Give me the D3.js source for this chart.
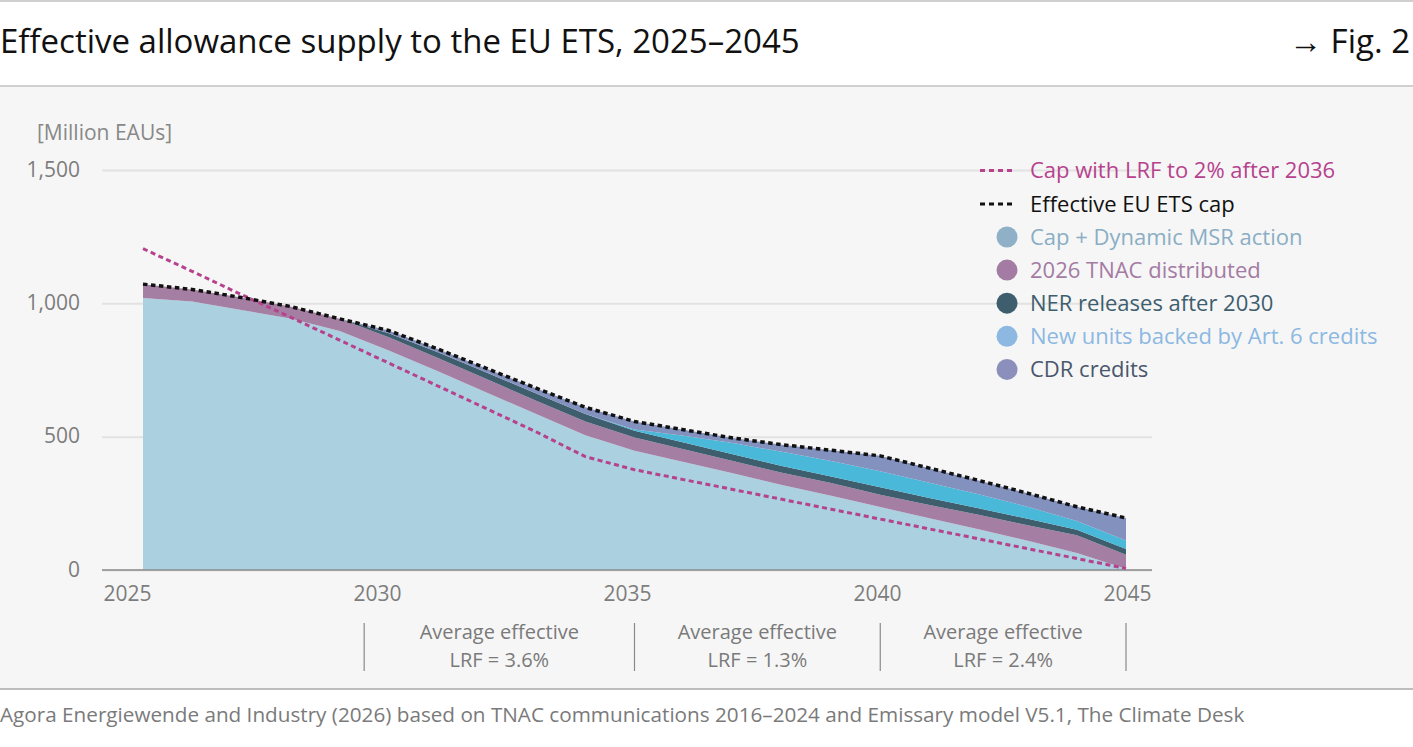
<!DOCTYPE html>
<html>
<head>
<meta charset="utf-8">
<script src="https://cdn.jsdelivr.net/npm/d3@7"></script>
<style>
  body { margin: 0; background: #fff; }
  svg text { font-family: "Open Sans", sans-serif; }
</style>
</head>
<body>
<svg id="chart" width="1413" height="747"></svg>
<script>
// values, million EAUs
const years = [2025, 2026, 2027, 2028, 2029, 2030, 2031, 2032, 2033, 2034, 2035,
  2036, 2037, 2038, 2039, 2040, 2041, 2042, 2043, 2044, 2045];
const capMsr = [1020, 1007, 975, 943, 896, 823, 745, 665, 585, 505, 447,
  405, 363, 319, 278, 236, 194, 153, 110, 64, 5];
const tnac = [52, 45, 47, 45, 46, 50, 50, 50, 50, 52, 50,
  48, 46, 46, 48, 46, 50, 54, 58, 66, 52];
const ner = [0, 0, 0, 0, 0, 15, 22, 25, 27, 28, 25,
  25, 25, 25, 25, 28, 26, 25, 24, 21, 22];
const art6 = [0, 0, 0, 0, 0, 0, 0, 0, 0, 0, 5,
  25, 42, 53, 58, 60, 57, 52, 45, 33, 32];
const cdr = [0, 0, 0, 0, 0, 10, 12, 15, 20, 25, 30,
  23, 19, 27, 40, 58, 55, 52, 51, 53, 84];
const capLrf2 = [1205, 1120, 1033, 948, 862, 776, 690, 604, 518, 425, 376,
  339, 302, 265, 228, 191, 154, 117, 80, 43, 6];

const yTicks = [0, 500, 1000, 1500];
const xTickLabels = ["2025", "2030", "2035", "2040", "2045"];

const lrfBounds = [2029.5, 2035, 2040, 2045];
const lrfValues = ["3.6%", "1.3%", "2.4%"];

const layerKeys = ["capMsr", "tnac", "ner", "art6", "cdr"];
const layerNames = ["Cap + Dynamic MSR action", "2026 TNAC distributed",
  "NER releases after 2030", "New units backed by Art. 6 credits", "CDR credits"];
const layerFill = ["#abd0df", "#a57ea3", "#3e5e6e", "#4ab8d9", "#8391bf"];
const legendDot = ["#8fb0c6", "#a47ba3", "#3e5e6e", "#8cb8e2", "#8b8fbb"];
const legendText = ["#8aaec4", "#a47ba3", "#3e5e6e", "#8cb8e2", "#4a566c"];

const svg = d3.select("#chart");
const W = 1413, H = 747;

// frame
svg.append("rect").attr("width", W).attr("height", H).attr("fill", "#fff");
svg.append("rect").attr("y", 86).attr("width", W).attr("height", 603).attr("fill", "#f6f6f6");
svg.append("line").attr("x1", 0).attr("x2", W).attr("y1", 1).attr("y2", 1)
  .attr("stroke", "#d0d0d0").attr("stroke-width", 2);
svg.append("line").attr("x1", 0).attr("x2", W).attr("y1", 86).attr("y2", 86)
  .attr("stroke", "#d0d0d0").attr("stroke-width", 2);
svg.append("line").attr("x1", 0).attr("x2", W).attr("y1", 689).attr("y2", 689)
  .attr("stroke", "#bdbdbd").attr("stroke-width", 2);

svg.append("text").attr("x", 0).attr("y", 53)
  .attr("font-size", 33).attr("fill", "#111")
  .text("Effective allowance supply to the EU ETS, 2025–2045");
svg.append("text").attr("x", 1410).attr("y", 53).attr("text-anchor", "end")
  .attr("font-size", 33).attr("fill", "#111")
  .text("→ Fig. 2");

svg.append("text").attr("x", 0).attr("y", 722)
  .attr("font-size", 20.7).attr("fill", "#7a7a7a")
  .text("Agora Energiewende and Industry (2026) based on TNAC communications 2016–2024 and Emissary model V5.1, The Climate Desk");

// scales
const x = d3.scaleLinear([2025, 2045], [143, 1126]);
const y = d3.scaleLinear([0, 1500], [570, 170]);
const xLab = d3.scalePoint(xTickLabels, [127, 1127]);

// y axis + grid (behind the areas)
const yAxis = svg.append("g")
  .attr("transform", "translate(102,0)")
  .call(d3.axisLeft(y).tickValues(yTicks).tickFormat(d3.format(","))
    .tickSizeInner(-1050).tickSizeOuter(0).tickPadding(22));
yAxis.select(".domain").remove();
yAxis.selectAll(".tick line").attr("stroke", "#e2e2e2").attr("stroke-width", 2);
yAxis.selectAll(".tick text").attr("fill", "#7d7d7d").attr("font-size", 21)
  .attr("font-family", "Open Sans, sans-serif").attr("dy", "0.3em");

svg.append("text").attr("x", 37).attr("y", 140)
  .attr("font-size", 21).attr("fill", "#888")
  .text("[Million EAUs]");

// stacked areas
const rows = years.map((yr, i) => ({
  year: yr, capMsr: capMsr[i], tnac: tnac[i], ner: ner[i], art6: art6[i], cdr: cdr[i],
}));
const series = d3.stack().keys(layerKeys)(rows);

const area = d3.area()
  .x((d) => x(d.data.year))
  .y0((d) => y(d[0]))
  .y1((d) => y(d[1]));

svg.append("g").selectAll("path")
  .data(series)
  .join("path")
  .attr("fill", (d, i) => layerFill[i])
  .attr("d", area);

// zero line on top of the areas
svg.append("line")
  .attr("x1", 102).attr("x2", 1152).attr("y1", y(0)).attr("y2", y(0))
  .attr("stroke", "#8a8a8a").attr("stroke-width", 1.6);

// lines
svg.append("path")
  .datum(years.map((yr, i) => [yr, capLrf2[i]]))
  .attr("fill", "none").attr("stroke", "#b6428d").attr("stroke-width", 3)
  .attr("stroke-dasharray", "5,3.5")
  .attr("d", d3.line().x((d) => x(d[0])).y((d) => y(d[1])));

svg.append("path")
  .datum(series[series.length - 1])
  .attr("fill", "none").attr("stroke", "#111").attr("stroke-width", 3.5)
  .attr("stroke-dasharray", "4.5,3.5")
  .attr("d", d3.line().x((d) => x(d.data.year)).y((d) => y(d[1])));

// x axis labels
const xAxis = svg.append("g")
  .attr("transform", "translate(0,570)")
  .call(d3.axisBottom(xLab).tickSize(0).tickPadding(16));
xAxis.select(".domain").remove();
xAxis.selectAll(".tick text").attr("fill", "#7d7d7d").attr("font-size", 21)
  .attr("font-family", "Open Sans, sans-serif");

// LRF annotation
svg.append("g").selectAll("line")
  .data(lrfBounds)
  .join("line")
  .attr("x1", (d) => x(d)).attr("x2", (d) => x(d))
  .attr("y1", 623).attr("y2", 671)
  .attr("stroke", "#8a8a8a").attr("stroke-width", 1.2);

const lrfG = svg.append("g").selectAll("g")
  .data(lrfValues)
  .join("g")
  .attr("text-anchor", "middle")
  .attr("font-size", 20).attr("fill", "#7a7a7a")
  .attr("transform", (d, i) => `translate(${(x(lrfBounds[i]) + x(lrfBounds[i + 1])) / 2},0)`);
lrfG.append("text").attr("y", 639).text("Average effective");
lrfG.append("text").attr("y", 667).text((d) => "LRF = " + d);

// legend
const leg = svg.append("g").attr("transform", "translate(980,0)");
const lineItems = [
  { label: "Cap with LRF to 2% after 2036", color: "#b6428d", text: "#b6428d", y: 170.5 },
  { label: "Effective EU ETS cap", color: "#111", text: "#111", y: 204 },
];
lineItems.forEach((it) => {
  leg.append("line").attr("x1", 0).attr("x2", 36).attr("y1", it.y).attr("y2", it.y)
    .attr("stroke", it.color).attr("stroke-width", 3).attr("stroke-dasharray", "5,4");
  leg.append("text").attr("x", 50).attr("y", it.y + 7.5)
    .attr("font-size", 22).attr("fill", it.text).text(it.label);
});
layerNames.forEach((name, i) => {
  const cy = 237 + i * 33.1;
  leg.append("circle").attr("cx", 27).attr("cy", cy).attr("r", 10.5).attr("fill", legendDot[i]);
  leg.append("text").attr("x", 50).attr("y", cy + 7.5)
    .attr("font-size", 22).attr("fill", legendText[i]).text(name);
});
</script>
</body>
</html>
